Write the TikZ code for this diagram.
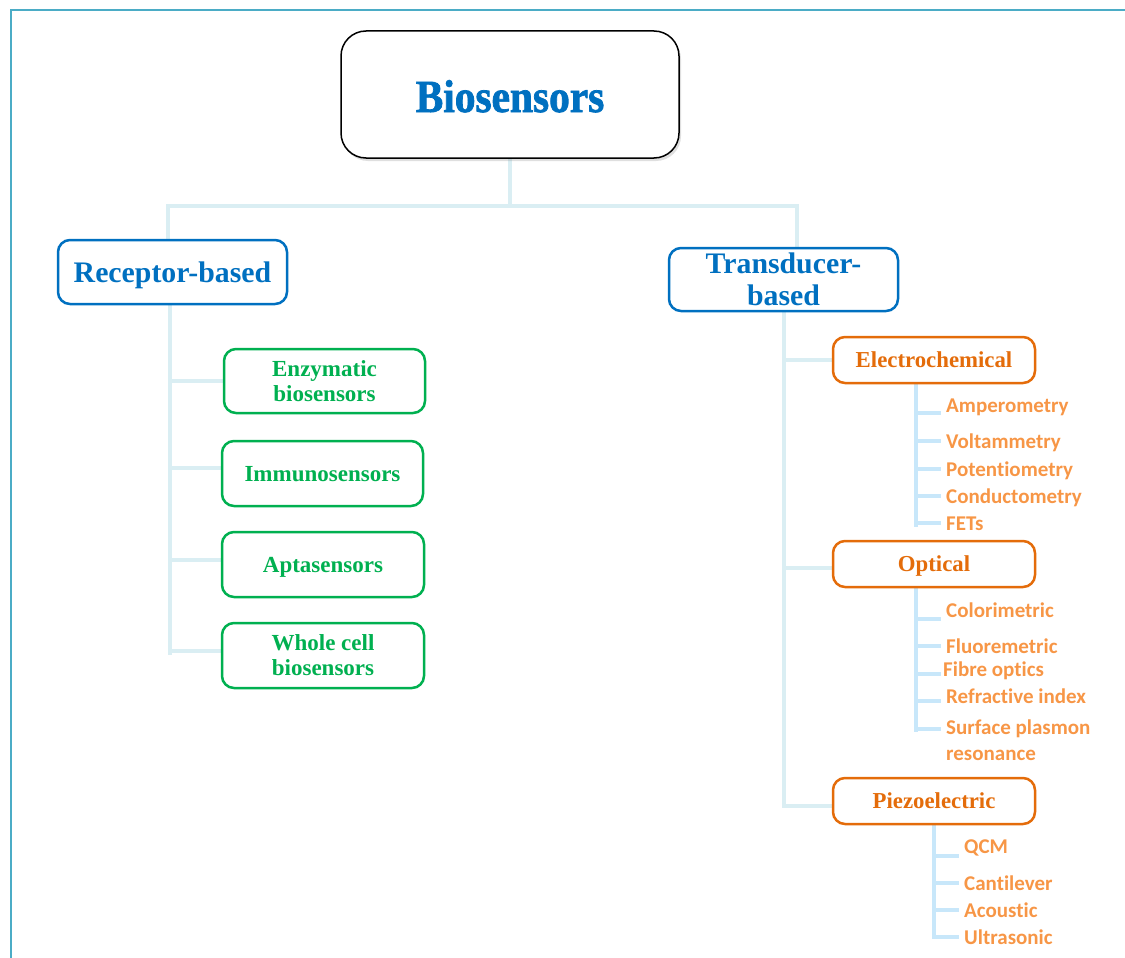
\documentclass[tikz,border=0pt]{standalone}
\usepackage{fontspec}
\setmainfont{Liberation Serif}
\newfontfamily\leaffont[Ligatures=NoCommon]{Carlito}
\newfontfamily\titlefont[BoldFeatures={FakeBold=1.6,FakeStretch=0.9}]{Liberation Serif}
\usetikzlibrary{backgrounds,shadows,calc}
\definecolor{myblue}{HTML}{0070C0}
\definecolor{mygreen}{HTML}{00B050}
\definecolor{myorange}{HTML}{E46C0A}
\definecolor{leaforange}{HTML}{F79646}
\definecolor{trunkblue}{HTML}{DAEEF3}
\definecolor{twigblue}{HTML}{C8E7FA}
\definecolor{framecol}{HTML}{4BACC6}
\tikzset{
  box/.style={draw, rounded corners=12pt, line width=2.5pt, fill=white, align=center, inner sep=0pt},
  biobox/.style={draw=black, rounded corners=25pt, line width=1.5pt, fill=white, minimum width=338pt, minimum height=127pt,
    drop shadow={opacity=0.25, shadow xshift=2pt, shadow yshift=-3pt}},
  titletext/.style={text=myblue, font=\titlefont\bfseries\fontsize{46}{50}\selectfont, inner sep=0pt, anchor=base},
  bluebox/.style={box, draw=myblue, text=myblue, font=\bfseries\fontsize{29.8}{32}\selectfont, minimum width=229pt, minimum height=64pt},
  greenbox/.style={box, draw=mygreen, text=mygreen, font=\bfseries\fontsize{23}{25}\selectfont, minimum width=201pt, minimum height=65pt, text depth=0pt},
  orangebox/.style={box, draw=myorange, text=myorange, font=\bfseries\fontsize{22.8}{26}\selectfont, minimum width=202pt, minimum height=46pt, text depth=0pt},
  leaf/.style={text=leaforange, font=\leaffont\bfseries\fontsize{21}{25}\selectfont, anchor=base west, inner sep=0pt},
  trunk/.style={draw=trunkblue, line width=4pt},
  twig/.style={draw=twigblue, line width=4pt},
}
\begin{document}
\begin{tikzpicture}[x=1pt,y=-1pt]
\useasboundingbox (0,0) rectangle (1125,958);
% frame
\draw[framecol, line width=2.5pt] (11,958) -- (11,10) -- (1125,10);

% main nodes
\node[biobox] (bio) at (510,94.5) {};
\node[titletext] (biot) at (510,112) {Biosensors};

\node[bluebox, text height=26pt, text depth=6pt] (rec) at (172.5,272) {Receptor-based};
\node[bluebox, minimum height=63pt] (trans) at (783.5,279.5) {Transducer-\\based};

\node[greenbox, minimum height=64pt] (enz) at (324.5,381) {Enzymatic\\biosensors};
\node[greenbox] (imm) at (322.5,473.5) {Immunosensors};
\node[greenbox, minimum width=202pt] (apt) at (323,564.5) {Aptasensors};
\node[greenbox, minimum width=202pt] (whole) at (323,655.5) {Whole cell\\biosensors};

\node[orangebox] (elec) at (934,360) {Electrochemical};
\node[orangebox] (opt) at (934,564) {Optical};
\node[orangebox] (piezo) at (934,801) {Piezoelectric};

% leaves
\node[leaf] (amp) at (946,412) {Amperometry};
\node[leaf] (volt) at (946,448) {Voltammetry};
\node[leaf] (pot) at (946,476) {Potentiometry};
\node[leaf] (cond) at (946,503) {Conductometry};
\node[leaf] (fet) at (946,530) {FETs};

\node[leaf] (col) at (946,617) {Colorimetric};
\node[leaf] (flu) at (946,653) {Fluoremetric};
\node[leaf] (fib) at (943,676) {Fibre optics};
\node[leaf] (ref) at (946,703) {Refractive index};
\node[leaf] (spr) at (946,734) {Surface plasmon};
\node[leaf] (spr2) at (946,760) {resonance};

\node[leaf] (qcm) at (964,853) {QCM};
\node[leaf] (cant) at (964,890) {Cantilever};
\node[leaf] (aco) at (964,917) {Acoustic};
\node[leaf] (ult) at (964,944) {Ultrasonic};

% branch end coordinates
\coordinate (j) at (510,206);
\coordinate (recend) at (170,655);
\coordinate (ev) at ($(elec.south)+(-18,0)$);
\coordinate (evend) at (916,527);
\coordinate (ov) at ($(opt.south)+(-18,0)$);
\coordinate (ovend) at (916,732);
\coordinate (pv) at (piezo.south);
\coordinate (pvend) at (934,939);
\coordinate (amp-e) at (941,413);
\coordinate (volt-e) at (941,441);
\coordinate (pot-e) at (941,469);
\coordinate (cond-e) at (941,496);
\coordinate (fet-e) at (941,523);
\coordinate (col-e) at (941,619);
\coordinate (flu-e) at (941,646);
\coordinate (fib-e) at (941,674);
\coordinate (ref-e) at (941,701);
\coordinate (spr-e) at (941,729);
\coordinate (qcm-e) at (959,856);
\coordinate (cant-e) at (959,883);
\coordinate (aco-e) at (959,910);
\coordinate (ult-e) at (959,937);

\begin{pgfonlayer}{background}
\draw[trunk] (bio.south) -- (j);
\draw[trunk] (j) -| ([xshift=-4.5pt]rec.north);
\draw[trunk] (j) -| ([xshift=13.5pt]trans.north);

\draw[trunk] ([xshift=-2.5pt]rec.south) -- (recend);
\draw[trunk] ([xshift=-2.5pt]rec.south) |- (enz.west);
\draw[trunk] ([xshift=-2.5pt]rec.south) |- ([yshift=6pt]imm.west);
\draw[trunk] ([xshift=-2.5pt]rec.south) |- ([yshift=4.5pt]apt.west);
\draw[trunk] ([xshift=-2.5pt]rec.south) |- ([yshift=4.5pt]whole.west);

\draw[trunk] (trans.south) |- (elec.west);
\draw[trunk] (trans.south) |- ([yshift=-4pt]opt.west);
\draw[trunk] (trans.south) |- ([yshift=-5pt]piezo.west);

\draw[twig] (ev) -- (evend);
\foreach \e in {amp-e,volt-e,pot-e,cond-e,fet-e}{\draw[twig] (ev) |- (\e);}
\draw[twig] (ov) -- (ovend);
\foreach \e in {col-e,flu-e,fib-e,ref-e,spr-e}{\draw[twig] (ov) |- (\e);}
\draw[twig] (pv) -- (pvend);
\foreach \e in {qcm-e,cant-e,aco-e,ult-e}{\draw[twig] (pv) |- (\e);}
\end{pgfonlayer}
\end{tikzpicture}
\end{document}
